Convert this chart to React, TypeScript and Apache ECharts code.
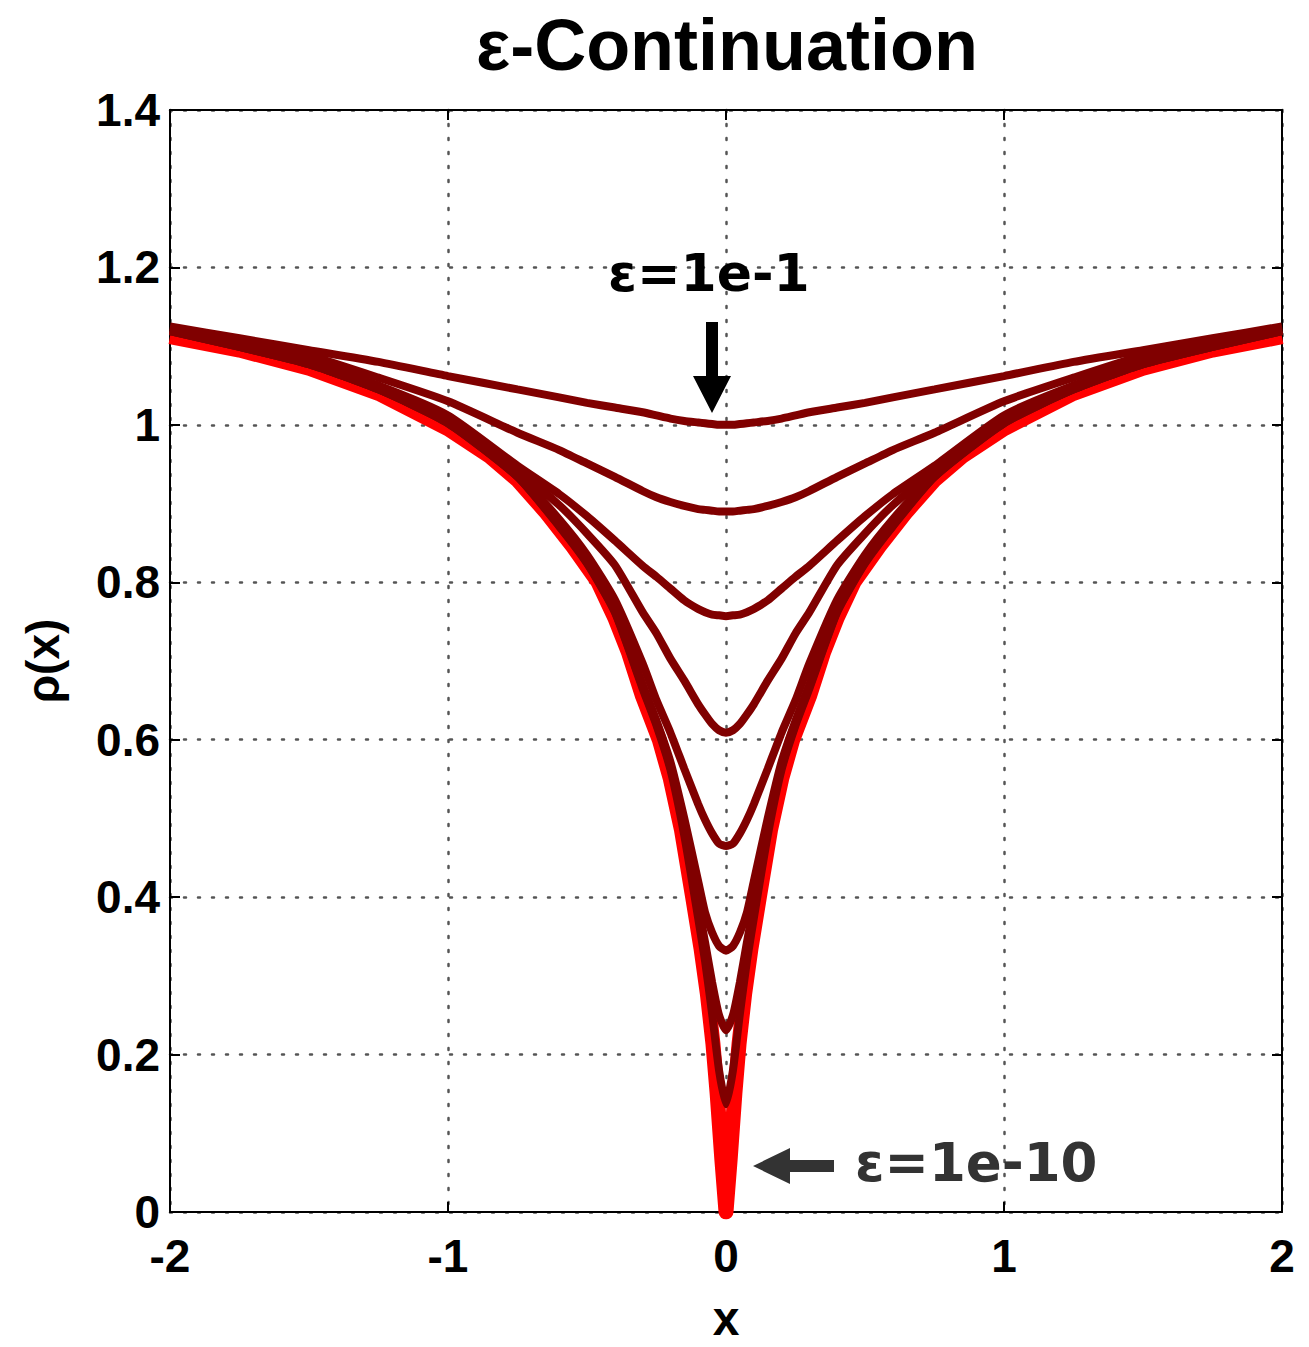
import React, { useEffect, useRef } from "react";
import * as echarts from "echarts";

// Half-curve sample positions (x >= 0); curves are symmetric in x
const xHalf = [0, 0.025, 0.05, 0.075, 0.1, 0.15, 0.2, 0.25, 0.3, 0.4, 0.5, 0.6, 0.75, 1.0, 1.25, 1.5, 1.75, 2.0];

// epsilon continuation curves (dark red)
const rhoE1 = [1.0, 1.0, 1.001, 1.002, 1.003, 1.005, 1.008, 1.012, 1.016, 1.022, 1.028, 1.035, 1.045, 1.062, 1.08, 1.095, 1.11, 1.125];
const rhoE2 = [0.89, 0.89, 0.891, 0.892, 0.893, 0.897, 0.902, 0.908, 0.916, 0.934, 0.951, 0.968, 0.99, 1.03, 1.06, 1.088, 1.107, 1.122];
const rhoE3 = [0.757, 0.758, 0.759, 0.762, 0.766, 0.777, 0.792, 0.807, 0.821, 0.853, 0.884, 0.912, 0.948, 1.012, 1.05, 1.08, 1.102, 1.12];
const rhoE4 = [0.609, 0.612, 0.62, 0.632, 0.645, 0.675, 0.703, 0.735, 0.762, 0.822, 0.862, 0.898, 0.942, 1.008, 1.048, 1.079, 1.101, 1.12];
const rhoE5 = [0.465, 0.468, 0.481, 0.498, 0.518, 0.563, 0.609, 0.65, 0.697, 0.778, 0.835, 0.88, 0.938, 1.005, 1.046, 1.078, 1.1, 1.12];
const rhoE6 = [0.332, 0.338, 0.355, 0.38, 0.42, 0.5, 0.572, 0.624, 0.67, 0.764, 0.826, 0.873, 0.935, 1.003, 1.045, 1.077, 1.099, 1.119];
const rhoE7 = [0.231, 0.25, 0.292, 0.342, 0.39, 0.488, 0.565, 0.62, 0.667, 0.763, 0.825, 0.872, 0.934, 1.002, 1.045, 1.077, 1.099, 1.119];
const rhoE8 = [0.137, 0.18, 0.252, 0.318, 0.373, 0.478, 0.562, 0.618, 0.665, 0.762, 0.824, 0.871, 0.934, 1.002, 1.045, 1.077, 1.099, 1.119];

// final curve (eps = 1e-10, bright red)
const redX = [0, 0.015, 0.032, 0.047, 0.067, 0.09, 0.12, 0.16, 0.2, 0.24, 0.3, 0.35, 0.4, 0.46, 0.55, 0.65, 0.75, 0.85, 1.0, 1.25, 1.5, 1.75, 2.0];
const redY = [0, 0.067, 0.151, 0.214, 0.277, 0.335, 0.4, 0.485, 0.55, 0.6, 0.655, 0.71, 0.755, 0.8, 0.845, 0.89, 0.93, 0.96, 0.995, 1.04, 1.072, 1.095, 1.112];

const xTicks = { min: -2, max: 2, interval: 1 };
const yTicks = { min: 0, max: 1.4, interval: 0.2 };

const darkCurves = [rhoE1, rhoE2, rhoE3, rhoE4, rhoE5, rhoE6, rhoE7, rhoE8];

function mirror(xs: number[], ys: number[]): number[][] {
  const out: number[][] = [];
  for (let i = xs.length - 1; i > 0; i--) out.push([-xs[i], ys[i]]);
  for (let i = 0; i < xs.length; i++) out.push([xs[i], ys[i]]);
  return out;
}

const FONT = "'Liberation Sans', Arial, Helvetica, sans-serif";
const ANN_FONT = "'DejaVu Sans', Verdana, sans-serif";

export default function App() {
  const ref = useRef<HTMLDivElement>(null);
  useEffect(() => {
    document.body.style.margin = "0";
    if (!ref.current) return;
    const chart = echarts.init(ref.current, null, { renderer: "svg" });

    const gridDots = { show: true, lineStyle: { color: "#555", width: 2.5, type: [2, 12] as any, cap: "round" as any } };
    const axisLabel = { color: "#000", fontFamily: FONT, fontWeight: "bold" as any, fontSize: 46 };

    const series: any[] = [
      {
        type: "line",
        name: "ε=1e-10",
        data: mirror(redX, redY),
        showSymbol: false,
        lineStyle: { color: "#ff0000", width: 15, join: "round" as any },
        z: 2,
      },
      ...darkCurves.map((ys, i) => ({
        type: "line",
        name: "ε=1e-" + (i + 1),
        data: mirror(xHalf, ys),
        showSymbol: false,
        smooth: 0.2,
        lineStyle: { color: "#800000", width: 8 },
        z: 3,
      })),
    ];

    chart.setOption({
      animation: false,
      backgroundColor: "#fff",
      title: {
        text: "ε-Continuation",
        left: 722,
        top: 4,
        textAlign: "center",
        textStyle: { fontFamily: FONT, fontWeight: "bold", fontSize: 72, color: "#000" },
      },
      grid: { left: 170, right: 27, top: 110, bottom: 127 },
      xAxis: [
        {
          type: "value",
          ...xTicks,
          position: "bottom",
          name: "x",
          nameLocation: "middle",
          nameGap: 82,
          nameTextStyle: { fontFamily: FONT, fontWeight: "bold", fontSize: 48, color: "#000" },
          axisLine: { show: true, onZero: false, lineStyle: { color: "#000", width: 2 } },
          axisTick: { show: true, inside: true, length: 10, lineStyle: { color: "#000", width: 2 } },
          axisLabel: { ...axisLabel, margin: 21 },
          splitLine: gridDots,
        },
        {
          type: "value",
          ...xTicks,
          position: "top",
          axisLine: { show: true, onZero: false, lineStyle: { color: "#000", width: 2 } },
          axisTick: { show: true, inside: true, length: 10, lineStyle: { color: "#000", width: 2 } },
          axisLabel: { show: false },
          splitLine: { show: false },
        },
      ],
      yAxis: [
        {
          type: "value",
          ...yTicks,
          position: "left",
          name: "ρ(x)",
          nameLocation: "middle",
          nameGap: 104,
          nameRotate: 90,
          nameTextStyle: { fontFamily: FONT, fontWeight: "bold", fontSize: 46, color: "#000" },
          axisLine: { show: true, onZero: false, lineStyle: { color: "#000", width: 2 } },
          axisTick: { show: true, inside: true, length: 10, lineStyle: { color: "#000", width: 2 } },
          axisLabel: { ...axisLabel, margin: 10 },
          splitLine: gridDots,
        },
        {
          type: "value",
          ...yTicks,
          position: "right",
          axisLine: { show: true, onZero: false, lineStyle: { color: "#000", width: 2 } },
          axisTick: { show: true, inside: true, length: 10, lineStyle: { color: "#000", width: 2 } },
          axisLabel: { show: false },
          splitLine: { show: false },
        },
      ],
      series,
      graphic: [
        {
          type: "text",
          left: 608,
          top: 247,
          style: { text: "ε=1e-1", fontFamily: ANN_FONT, fontWeight: "bold", fontSize: 52, fill: "#000" },
          z: 10,
        },
        {
          type: "polygon",
          shape: { points: [[706, 322], [718, 322], [718, 376], [731, 376], [712, 413], [693, 376], [706, 376]] },
          style: { fill: "#000" },
          z: 10,
        },
        {
          type: "text",
          left: 855,
          top: 1136,
          style: { text: "ε=1e-10", fontFamily: ANN_FONT, fontWeight: "bold", fontSize: 53, fill: "#333" },
          z: 10,
        },
        {
          type: "polygon",
          shape: { points: [[753, 1166], [790, 1148], [790, 1160], [834, 1160], [834, 1172], [790, 1172], [790, 1184]] },
          style: { fill: "#333" },
          z: 10,
        },
      ],
    });
    return () => chart.dispose();
  }, []);
  return <div ref={ref} style={{ width: 1309, height: 1347 }} />;
}
